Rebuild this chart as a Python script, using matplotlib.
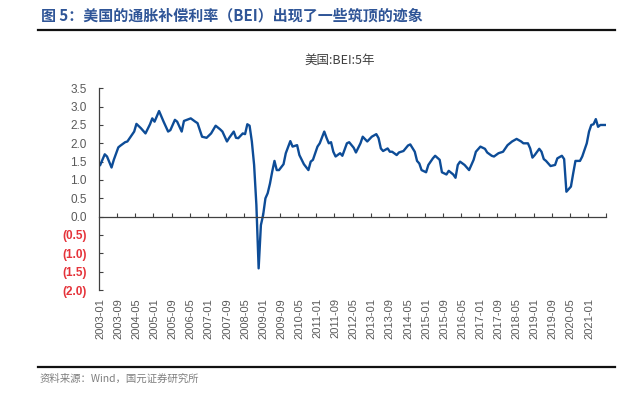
import matplotlib
matplotlib.use("Agg")
import matplotlib.pyplot as plt

# ---- data ----
dates = ["2003-01","2003-03","2003-04","2003-06","2003-07","2003-09","2003-10","2003-12",
         "2004-01","2004-03","2004-04","2004-05","2004-07","2004-09","2004-11","2004-12",
         "2005-01","2005-03","2005-05","2005-07","2005-08","2005-10","2005-11",
         "2006-01","2006-02","2006-05","2006-07","2006-08","2006-10","2006-12",
         "2007-02","2007-04","2007-06","2007-07","2007-09","2007-10","2007-12",
         "2008-01","2008-02","2008-04","2008-05","2008-06","2008-07","2008-08","2008-09",
         "2008-10","2008-11","2008-12",
         "2009-01","2009-02","2009-03","2009-04","2009-05","2009-06","2009-07","2009-08",
         "2009-10","2009-11",
         "2010-01","2010-02","2010-04","2010-05","2010-07","2010-09","2010-10","2010-11",
         "2011-01","2011-02","2011-04","2011-05","2011-06","2011-07","2011-08","2011-09",
         "2011-11","2011-12",
         "2012-02","2012-03","2012-05","2012-06","2012-08","2012-09","2012-11",
         "2013-01","2013-03","2013-04","2013-05","2013-06","2013-08","2013-09","2013-10","2013-12",
         "2014-01","2014-03","2014-05","2014-06","2014-08","2014-09","2014-10","2014-11",
         "2015-01","2015-02","2015-04","2015-05","2015-07","2015-08","2015-10","2015-11",
         "2016-01","2016-02","2016-03","2016-04","2016-06","2016-08","2016-10","2016-11",
         "2017-01","2017-03","2017-04","2017-06","2017-07","2017-09","2017-11",
         "2018-01","2018-03","2018-05","2018-07","2018-08","2018-10","2018-11","2018-12",
         "2019-01","2019-03","2019-04","2019-05","2019-06","2019-08","2019-10","2019-11",
         "2020-01","2020-02","2020-03","2020-04","2020-05","2020-06","2020-07","2020-09",
         "2020-10","2020-12",
         "2021-01","2021-02","2021-03","2021-04","2021-05","2021-06","2021-07","2021-08"]

bei_5y = [1.41,1.70,1.64,1.34,1.55,1.89,1.94,2.03,
          2.05,2.23,2.32,2.53,2.41,2.27,2.52,2.68,
          2.59,2.88,2.59,2.32,2.36,2.64,2.59,
          2.32,2.61,2.68,2.59,2.55,2.18,2.15,
          2.27,2.48,2.38,2.32,2.05,2.15,2.32,
          2.15,2.14,2.27,2.25,2.52,2.48,2.05,1.41,
          0.32,-1.41,-0.23,
          0.05,0.50,0.64,0.90,1.23,1.52,1.27,1.27,
          1.43,1.73,
          2.06,1.91,1.95,1.68,1.43,1.27,1.50,1.55,
          1.91,2.00,2.32,2.15,2.00,2.03,1.77,1.64,
          1.73,1.66,
          2.00,2.03,1.88,1.75,2.00,2.18,2.05,
          2.18,2.25,2.14,1.86,1.79,1.86,1.77,1.77,1.68,
          1.75,1.79,1.94,1.97,1.77,1.52,1.45,1.27,
          1.21,1.41,1.59,1.66,1.55,1.21,1.15,1.25,
          1.15,1.06,1.41,1.50,1.41,1.27,1.55,1.77,
          1.91,1.85,1.75,1.66,1.64,1.73,1.77,
          1.95,2.05,2.12,2.05,2.00,2.00,1.86,1.61,
          1.68,1.85,1.77,1.57,1.52,1.38,1.41,1.59,
          1.66,1.57,0.68,0.75,0.82,1.18,1.52,1.52,
          1.64,2.00,
          2.32,2.50,2.52,2.66,2.45,2.50,2.50,2.50]

tick_labels = ["2003-01","2003-09","2004-05","2005-01","2005-09","2006-05","2007-01",
               "2007-09","2008-05","2009-01","2009-09","2010-05","2011-01","2011-09",
               "2012-05","2013-01","2013-09","2014-05","2015-01","2015-09","2016-05",
               "2017-01","2017-09","2018-05","2019-01","2019-09","2020-05","2021-01"]

y_ticks = [-2.0, -1.5, -1.0, -0.5, 0.0, 0.5, 1.0, 1.5, 2.0, 2.5, 3.0, 3.5]

fig_title = "图 5：美国的通胀补偿利率（BEI）出现了一些筑顶的迹象"
chart_title = "美国:BEI:5年"
source = "资料来源：Wind，国元证券研究所"


def month_idx(s):
    y, m = s.split("-")
    return (int(y) - 2003) * 12 + int(m) - 1


cjk = ["Noto Sans CJK SC", "DejaVu Sans"]
latin = ["Liberation Sans", "DejaVu Sans"]

fig = plt.figure(figsize=(6.4, 3.98), dpi=100)
ax = fig.add_axes([99.1 / 640, 1 - 290 / 398, (606 - 99.1) / 640, (290 - 88.3) / 398])

x = [month_idx(d) for d in dates]
ax.plot(x, bei_5y, color="#0D4C97", lw=1.7, solid_joinstyle="round")

ax.set_xlim(-0.5, 223.5)
ax.set_ylim(-2.0, 3.5)

for s in ["top", "right"]:
    ax.spines[s].set_visible(False)
ax.spines["left"].set_color("#404040")
ax.spines["left"].set_linewidth(0.9)
ax.spines["bottom"].set_position(("data", 0))
ax.spines["bottom"].set_color("#404040")
ax.spines["bottom"].set_linewidth(0.9)

# ticks on the zero line (between categories)
ax.set_xticks([7.5 + 8 * k for k in range(28)])
ax.tick_params(axis="x", direction="in", length=3, width=0.8, color="#404040",
               labelbottom=False)

# y ticks
ax.set_yticks(y_ticks)
ylabels = []
for v in y_ticks:
    ylabels.append(f"{v:.1f}" if v >= 0 else f"({-v:.1f})")
ax.set_yticklabels(ylabels, fontfamily=latin, fontsize=8.5)
ax.tick_params(axis="y", direction="in", length=3, width=0.8, color="#404040", pad=9)
for lab, v in zip(ax.get_yticklabels(), y_ticks):
    if v < 0:
        lab.set_color("#E5333A")
        lab.set_fontweight("bold")
    else:
        lab.set_color("#595959")

# category labels at the bottom
sec = ax.secondary_xaxis("bottom")
for s in sec.spines.values():
    s.set_visible(False)
sec.set_xticks([month_idx(t) for t in tick_labels])
sec.set_xticklabels(tick_labels, rotation=90, fontfamily=latin, fontsize=8, color="#595959")
sec.tick_params(axis="x", length=0, pad=6)

# titles and decorations
fig.text(41 / 640, 1 - 16 / 398, fig_title, fontfamily=cjk, fontsize=10.8,
         fontweight="bold", color="#2F5597", ha="left", va="center")
fig.add_artist(plt.Line2D([38 / 640, 615 / 640], [1 - 30 / 398, 1 - 30 / 398],
                          color="#111111", lw=1.6))
fig.text(340 / 640, 1 - 60 / 398, chart_title, fontfamily=cjk, fontsize=9,
         color="#404040", ha="center", va="center")
fig.add_artist(plt.Line2D([38 / 640, 615 / 640], [1 - 367 / 398, 1 - 367 / 398],
                          color="#111111", lw=1.6))
fig.text(40 / 640, 1 - 379 / 398, source, fontfamily=cjk, fontsize=7.5,
         color="#7F7F7F", ha="left", va="center")

fig.savefig("out.png", dpi=100, facecolor="white")
